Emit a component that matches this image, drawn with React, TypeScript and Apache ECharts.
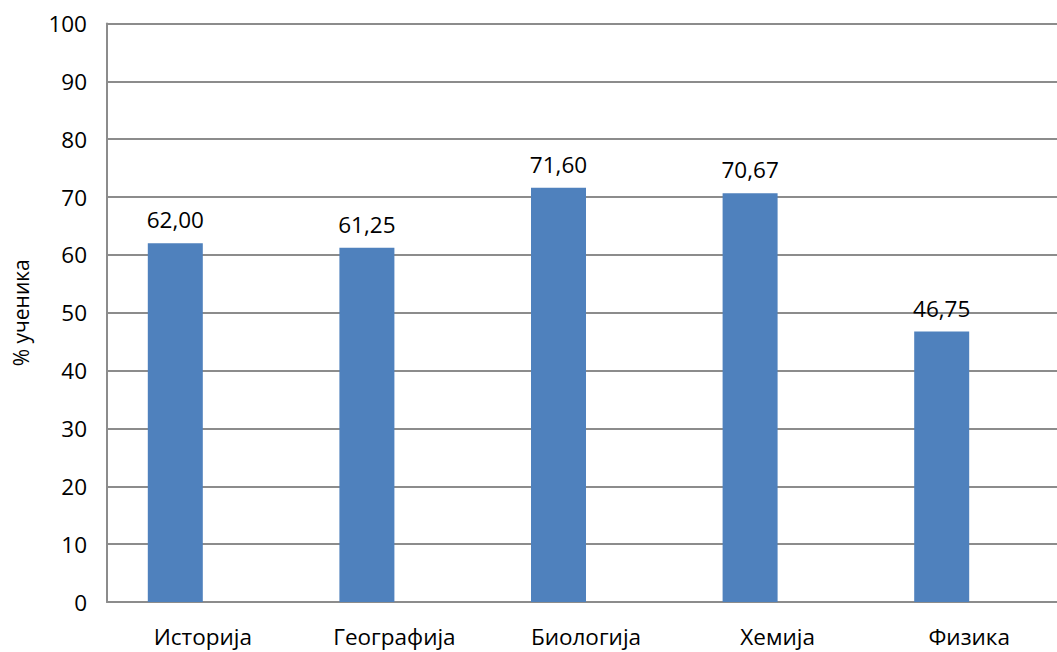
import React, { useEffect, useRef } from "react";
import * as echarts from "echarts";

const categories = ["Историја", "Географија", "Биологија", "Хемија", "Физика"];
const values = [62.0, 61.25, 71.6, 70.67, 46.75];
const emptySeries = [null, null, null, null, null];
const yTicks = { min: 0, max: 100, interval: 10 };
const yAxisTitle = "% ученика";

export default function App() {
  const ref = useRef<HTMLDivElement>(null);
  useEffect(() => {
    document.body.style.margin = "0";
    document.body.style.overflow = "hidden";
    const chart = echarts.init(ref.current!, null, { renderer: "svg" });
    const font = "'Open Sans', 'Noto Sans', sans-serif";
    chart.setOption({
      animation: false,
      backgroundColor: "#ffffff",
      textStyle: { fontFamily: font },
      grid: { left: 107, top: 23.5, right: 0, bottom: 50, containLabel: false },
      xAxis: {
        type: "category",
        data: categories,
        axisLine: { show: true, lineStyle: { color: "#8c8c8c", width: 2 } },
        axisTick: { show: false },
        axisLabel: { color: "#000", fontSize: 22.5, margin: 23, fontFamily: font },
      },
      yAxis: {
        type: "value",
        min: yTicks.min,
        max: yTicks.max,
        interval: yTicks.interval,
        name: yAxisTitle,
        nameLocation: "middle",
        nameGap: 76,
        nameRotate: 90,
        nameTextStyle: { color: "#000", fontSize: 21, fontFamily: font },
        axisLine: { show: true, lineStyle: { color: "#8c8c8c", width: 2 } },
        axisTick: { show: false },
        axisLabel: { color: "#000", fontSize: 22.5, margin: 20, fontFamily: font },
        splitLine: { show: true, lineStyle: { color: "#8c8c8c", width: 2 } },
      },
      series: [
        {
          type: "bar",
          data: values,
          barWidth: 55,
          barGap: "0%",
          itemStyle: { color: "#4F81BD" },
          label: {
            show: true,
            position: "top",
            distance: 12,
            color: "#000",
            fontSize: 22.5,
            fontFamily: font,
            formatter: (p: any) => Number(p.value).toFixed(2).replace(".", ","),
          },
        },
        {
          type: "bar",
          data: emptySeries,
          barWidth: 55,
          barGap: "0%",
          itemStyle: { color: "#C0504D" },
        },
      ],
    });
    return () => chart.dispose();
  }, []);
  return <div ref={ref} style={{ width: 1065, height: 652 }} />;
}
